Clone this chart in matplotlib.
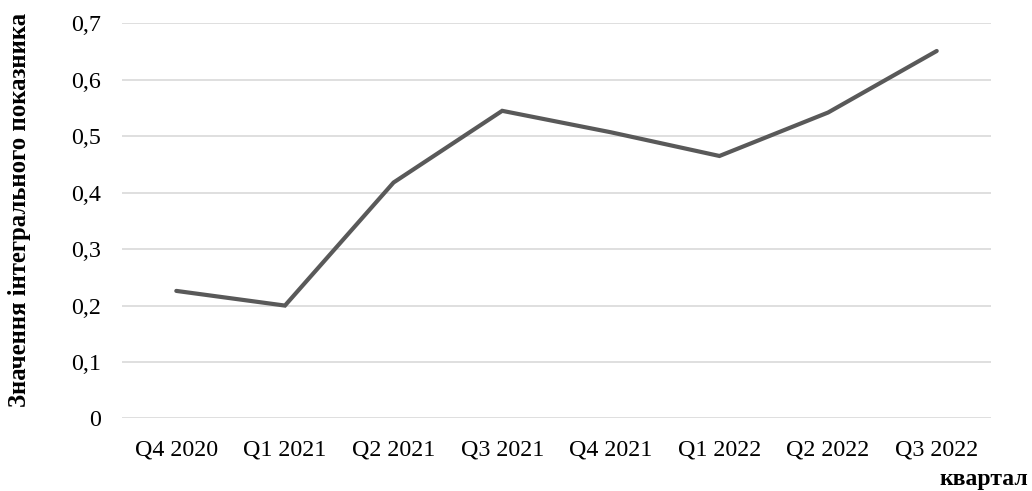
import matplotlib.pyplot as plt

plt.rcParams["font.family"] = ["Liberation Serif", "DejaVu Serif"]

quarters = ["Q4 2020", "Q1 2021", "Q2 2021", "Q3 2021",
            "Q4 2021", "Q1 2022", "Q2 2022", "Q3 2022"]
values = [0.226, 0.200, 0.418, 0.545, 0.507, 0.465, 0.542, 0.651]
y_ticks = [0, 0.1, 0.2, 0.3, 0.4, 0.5, 0.6, 0.7]
y_tick_labels = ["0", "0,1", "0,2", "0,3", "0,4", "0,5", "0,6", "0,7"]

fig = plt.figure(figsize=(10.32, 4.91), dpi=100)
ax = fig.add_axes([0.1182, 0.1477, 0.8421, 0.8048])

x = list(range(len(quarters)))
ax.plot(x, values, color="#595959", linewidth=3.0,
        solid_capstyle="round", solid_joinstyle="miter", zorder=3)

ax.set_xlim(-0.5, len(quarters) - 0.5)
ax.set_ylim(0, 0.7)
ax.set_yticks(y_ticks)
ax.set_yticklabels(y_tick_labels)
ax.set_xticks(x)
ax.set_xticklabels(quarters)
ax.tick_params(axis="both", length=0, labelsize=17.3, colors="black")
ax.tick_params(axis="x", pad=15)
ax.tick_params(axis="y", pad=15)

ax.grid(axis="y", color="#d9d9d9", linewidth=1.2, zorder=0)
ax.set_axisbelow(True)
for s in ax.spines.values():
    s.set_visible(False)

fig.text(0.019, 0.572, "Значення інтегрального показника", rotation=90,
         ha="center", va="center", fontsize=17.8, fontweight="bold")
fig.text(0.996, 0.013, "квартал", ha="right", va="baseline",
         fontsize=17, fontweight="bold")

fig.savefig("out.png", dpi=100)
